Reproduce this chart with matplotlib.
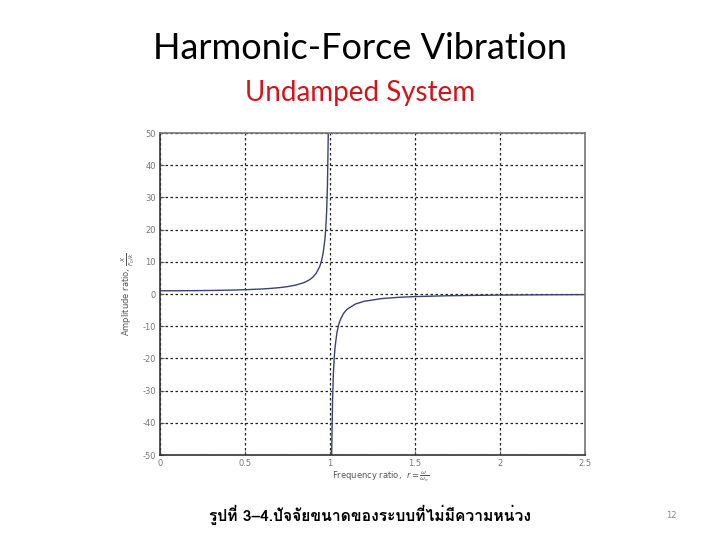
import matplotlib
matplotlib.use("Agg")
import matplotlib.pyplot as plt
from matplotlib import font_manager
from fontTools.ttLib import TTFont

# ---- data ----
r_below = [0.0, 0.1, 0.2, 0.3, 0.4, 0.5, 0.6, 0.65, 0.7, 0.75, 0.8, 0.85, 0.88,
           0.9, 0.92, 0.94, 0.95, 0.96, 0.97, 0.975, 0.98, 0.985, 0.99]
amp_below = [1.0, 1.01, 1.04, 1.10, 1.19, 1.33, 1.56, 1.73, 1.96, 2.29, 2.78, 3.60,
             4.43, 5.26, 6.51, 8.59, 10.26, 12.76, 16.92, 20.25, 25.25, 33.6, 50.3]
r_above = [1.01, 1.015, 1.02, 1.025, 1.03, 1.04, 1.05, 1.06, 1.08, 1.1, 1.15, 1.2,
           1.3, 1.4, 1.5, 1.7, 2.0, 2.25, 2.5]
amp_above = [-49.75, -33.1, -24.75, -19.75, -16.42, -12.25, -9.76, -8.09, -6.01,
             -4.76, -3.10, -2.27, -1.45, -1.04, -0.80, -0.53, -0.33, -0.25, -0.19]
x_ticks = [0, 0.5, 1, 1.5, 2, 2.5]
x_tick_labels = ["0", "0.5", "1", "1.5", "2", "2.5"]
y_ticks = [-50, -40, -30, -20, -10, 0, 10, 20, 30, 40, 50]

title = "Harmonic-Force Vibration"
subtitle = "Undamped System"
caption = "รูปที่ 3–4.ปัจจัยขนาดของระบบที่ไม่มีความหน่วง"
page_no = "12"

plt.rcParams["axes.unicode_minus"] = False

# ---- find a font with Thai glyphs ----
thai_font = None
for fe in font_manager.fontManager.ttflist:
    try:
        f = TTFont(fe.fname, fontNumber=0, lazy=True)
        cmap = f.getBestCmap()
        if cmap and ord("ร") in cmap and ord("ป") in cmap:
            if "bold" in fe.fname.lower():
                thai_font = fe.name
                break
            if thai_font is None:
                thai_font = fe.name
    except Exception:
        continue

fig = plt.figure(figsize=(7.2, 5.4), dpi=100)
fig.patch.set_facecolor("white")

fig.text(0.5, 0.91, title, ha="center", va="center", fontsize=26,
         family=["Lato", "DejaVu Sans"], color="black")
fig.text(0.5, 0.827, subtitle, ha="center", va="center", fontsize=20,
         family=["Lato", "DejaVu Sans"], color="#d0161b")

ax = fig.add_axes([0.2222, 0.1574, 0.5903, 0.5963])
line_col = "#3b4170"
ax.plot(r_below, amp_below, color=line_col, lw=1.0)
ax.plot(r_above, amp_above, color=line_col, lw=1.0)
ax.set_xlim(0, 2.5)
ax.set_ylim(-50, 50)
ax.set_xticks(x_ticks)
ax.set_xticklabels(x_tick_labels)
ax.set_yticks(y_ticks)
ax.tick_params(direction="in", length=3, labelsize=6, colors="#555555",
               labelcolor="#777777", pad=3)
ax.grid(True, color="#222222", linestyle=(0, (2, 2)), linewidth=0.9)
for s in ["left", "bottom"]:
    ax.spines[s].set_color("#333333")
    ax.spines[s].set_linewidth(1.2)
for s in ["top", "right"]:
    ax.spines[s].set_color("#777777")
    ax.spines[s].set_linewidth(1.2)

ax.set_xlabel(r"Frequency ratio,  $r = \frac{\omega}{\omega_n}$", fontsize=6,
              color="#555555")
ax.xaxis.set_label_coords(0.52, -0.068)
ax.xaxis.label.set_va("center")
ax.set_ylabel(r"Amplitude ratio, $\frac{X}{F_0/k}$", fontsize=6,
              color="#555555")
ax.yaxis.set_label_coords(-0.055, 0.5)

cap_family = [thai_font, "DejaVu Sans"] if thai_font else ["DejaVu Sans"]
fig.text(0.514, 0.046, caption, ha="center", va="center", fontsize=11.3,
         fontweight="bold", family=cap_family, color="black")
fig.text(0.933, 0.046, page_no, ha="center", va="center", fontsize=6,
         color="#888888")

fig.savefig("out.png", dpi=100)
